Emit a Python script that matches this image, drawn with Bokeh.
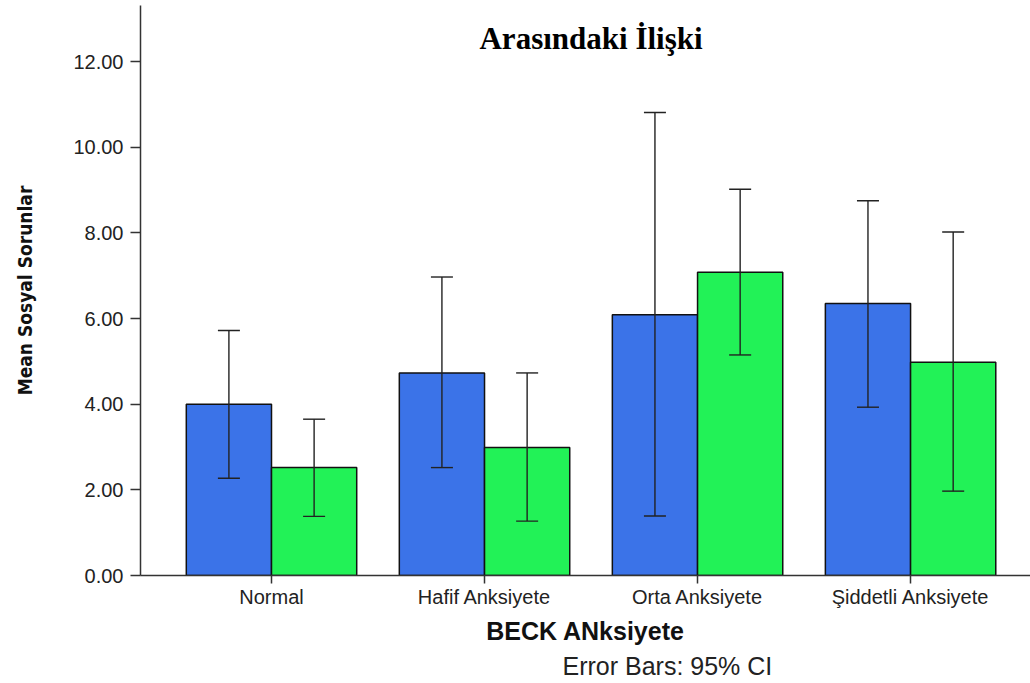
from bokeh.plotting import figure
from bokeh.models import (ColumnDataSource, FixedTicker, NumeralTickFormatter,
                          Whisker, TeeHead, Label, Range1d, Title)
from bokeh.embed import file_html
from bokeh.resources import INLINE

# ---- data ----
categories = ["Normal", "Hafif Anksiyete", "Orta Anksiyete", "Şiddetli Anksiyete"]
series_a_mean = [4.00, 4.73, 6.09, 6.35]
series_a_lower = [2.27, 2.52, 1.39, 3.93]
series_a_upper = [5.72, 6.97, 10.81, 8.75]
series_b_mean = [2.52, 2.99, 7.08, 4.98]
series_b_lower = [1.38, 1.27, 5.15, 1.97]
series_b_upper = [3.65, 4.73, 9.02, 8.02]
y_ticks = [0, 2, 4, 6, 8, 10, 12]

BLUE = "#3b73e8"
GREEN = "#22f257"

pos = [i + 1 for i in range(len(categories))]
offset = 0.2
src_a = ColumnDataSource(dict(x=[p_ - offset for p_ in pos], top=series_a_mean,
                              lower=series_a_lower, upper=series_a_upper))
src_b = ColumnDataSource(dict(x=[p_ + offset for p_ in pos], top=series_b_mean,
                              lower=series_b_lower, upper=series_b_upper))

p = figure(width=1030, height=683, output_backend="svg", toolbar_location=None,
           x_range=Range1d(0.385, 4.563), y_range=Range1d(0, 13.31),
           min_border_left=140, min_border_right=0, min_border_top=5,
           min_border_bottom=108)
p.outline_line_color = None
p.xgrid.visible = False
p.ygrid.visible = False
p.background_fill_color = "white"
p.border_fill_color = "white"

p.vbar(x="x", top="top", bottom=0, width=0.4, source=src_a, fill_color=BLUE,
       line_color="#111111", line_width=1.5)
p.vbar(x="x", top="top", bottom=0, width=0.4, source=src_b, fill_color=GREEN,
       line_color="#111111", line_width=1.5)

for src in (src_a, src_b):
    w = Whisker(base="x", lower="lower", upper="upper", source=src,
                line_color="#222222", line_width=1.4, level="overlay",
                upper_head=TeeHead(size=22, line_color="#222222", line_width=1.4),
                lower_head=TeeHead(size=22, line_color="#222222", line_width=1.4))
    p.add_layout(w)

# axes
p.yaxis.ticker = FixedTicker(ticks=y_ticks)
p.yaxis.formatter = NumeralTickFormatter(format="0.00")
p.yaxis.minor_tick_line_color = None
p.yaxis.major_tick_out = 10
p.yaxis.major_tick_in = 0
p.yaxis.axis_line_color = "#333333"
p.yaxis.axis_line_width = 1.5
p.yaxis.major_tick_line_color = "#333333"
p.yaxis.major_tick_line_width = 1.5
p.yaxis.major_label_text_font = "Liberation Sans"
p.yaxis.major_label_text_font_size = "20px"
p.yaxis.major_label_text_color = "#222222"
p.yaxis.major_label_standoff = 7
p.yaxis.axis_label = "Mean Sosyal Sorunlar"
p.yaxis.axis_label_text_font = "DejaVu Sans Condensed"
p.yaxis.axis_label_text_font_style = "bold"
p.yaxis.axis_label_text_font_size = "19px"
p.yaxis.axis_label_text_color = "#111111"
p.yaxis.axis_label_standoff = 34

p.xaxis.ticker = FixedTicker(ticks=pos)
p.xaxis.major_label_overrides = {pp: c for pp, c in zip(pos, categories)}
p.xaxis.minor_tick_line_color = None
p.xaxis.major_tick_out = 8
p.xaxis.major_tick_in = 0
p.xaxis.axis_line_color = "#333333"
p.xaxis.axis_line_width = 1.5
p.xaxis.major_tick_line_color = "#333333"
p.xaxis.major_tick_line_width = 1.5
p.xaxis.major_label_text_font = "Liberation Sans"
p.xaxis.major_label_text_font_size = "20px"
p.xaxis.major_label_text_color = "#222222"
p.xaxis.major_label_standoff = 2
p.xaxis.axis_label = "BECK ANksiyete"
p.xaxis.axis_label_text_font = "Liberation Sans"
p.xaxis.axis_label_text_font_style = "bold"
p.xaxis.axis_label_text_font_size = "25px"
p.xaxis.axis_label_text_color = "#111111"
p.xaxis.axis_label_standoff = 6

title = Label(x=2.5, y=12.54, text="Arasındaki İlişki", text_align="center",
              text_baseline="middle", text_font="Liberation Serif",
              text_font_style="bold", text_font_size="31px", text_color="#000000")
p.add_layout(title)

note = Title(text="Error Bars: 95% CI", align="left", offset=422,
             text_font="Liberation Sans", text_font_style="normal",
             text_font_size="25px", text_color="#222222", standoff=4)
p.add_layout(note, "below")

open("out.html", "w").write(file_html(p, INLINE))
